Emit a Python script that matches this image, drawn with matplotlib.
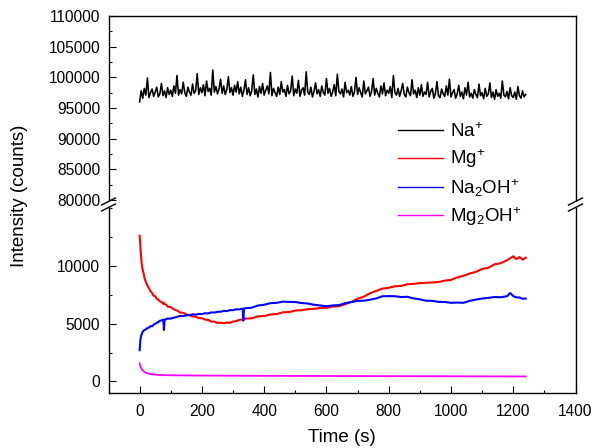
import matplotlib
matplotlib.use("Agg")
import matplotlib.pyplot as plt
from matplotlib.lines import Line2D
from matplotlib.ticker import MultipleLocator

plt.rcParams['font.family'] = ['Liberation Sans', 'DejaVu Sans']
plt.rcParams['mathtext.fontset'] = 'custom'
plt.rcParams['mathtext.rm'] = 'Liberation Sans'
plt.rcParams['mathtext.it'] = 'Liberation Sans'
plt.rcParams['mathtext.bf'] = 'Liberation Sans'

# ---------------- data ----------------
na_time = list(range(0, 1241, 5))
na_plus = [
    96000, 97800, 96600, 98200, 97100, 99900, 96700, 97500, 98100, 96900,
    97600, 98400, 96800, 97300, 99000, 97000, 97800, 96700, 98300, 97200,
    97900, 96900, 98600, 97400, 100300, 97100, 98000, 97300, 99200, 97500,
    96900, 98400, 97600, 97100, 98900, 97400, 97800, 100600, 97200, 98300,
    97500, 98800, 97000, 99400, 97700, 98200, 97100, 101200, 97600, 98500,
    97300, 98100, 99700, 97400, 98600, 97200, 98000, 100100, 97500, 98300,
    97100, 98700, 97600, 99300, 97300, 98400, 96900, 97900, 99600, 97200,
    98300, 97000, 97800, 100400, 97200, 98100, 96800, 98500, 97400, 99000,
    97100, 97900, 98600, 97300, 100800, 97000, 98200, 97500, 96900, 98400,
    97200, 99300, 97600, 98000, 96900, 98700, 97300, 97800, 100200, 97000,
    98100, 97400, 99500, 96900, 97900, 98300, 97100, 100900, 97600, 97200,
    98400, 96800, 97700, 99100, 97300, 98000, 96900, 98600, 97500, 97100,
    99800, 97400, 98200, 96900, 97600, 98800, 97000, 100500, 97700, 97300,
    98100, 96800, 99200, 97500, 97900, 97100, 98500, 96900, 97600, 100000,
    97200, 98300, 97500, 96800, 99400, 97300, 97800, 98400, 96900, 97700,
    99800, 97100, 98200, 97400, 96800, 98600, 97300, 99100, 97000, 97900,
    97400, 98500, 96700, 100300, 97500, 97100, 98200, 96900, 97800, 99000,
    97200, 96800, 98400, 97500, 97000, 99600, 97300, 97900, 96700, 98300,
    97100, 98800, 96900, 97600, 97200, 99200, 96800, 97700, 98200, 96600,
    97400, 99300, 97000, 96700, 98100, 97300, 96900, 98600, 97100, 99700,
    96800, 97500, 98000, 96600, 97300, 98700, 96900, 97600, 96500, 98300,
    97100, 99200, 96800, 97400, 96600, 98000, 97200, 96700, 98900, 97000,
    97500, 96500, 98200, 96900, 97300, 99100, 96700, 97600, 96400, 98000,
    96900, 97400, 96600, 99400, 97100, 96800, 97700, 96500, 98300, 97000,
    96700, 97600, 96400, 98500, 97000, 96600, 97800, 96800, 97200,
]

time = [0, 2, 4, 6, 8, 10, 13, 16, 20, 25, 30, 35, 40, 45, 50, 55, 60, 65, 70,
        76, 78, 80, 85, 90, 100, 110, 120, 130, 140, 150, 160, 170, 180, 190,
        200, 210, 220, 230, 240, 250, 260, 270, 280, 290, 300, 310, 320, 331,
        333, 335, 340, 360, 380, 400, 420, 440, 460, 480, 500, 520, 540, 560,
        580, 600, 620, 640, 660, 680, 700, 720, 740, 760, 780, 800, 820, 840,
        860, 880, 900, 920, 940, 960, 980, 1000, 1020, 1040, 1060, 1080, 1100,
        1120, 1140, 1160, 1180, 1190, 1200, 1210, 1220, 1230, 1240]

mg_plus = [12600, 11800, 11000, 10300, 9900, 9650, 9300, 8900, 8600, 8300,
           8050, 7800, 7650, 7400, 7380, 7150, 7080, 6920, 6880, 6720,
           6800, 6680, 6640, 6480, 6420, 6230, 6130, 5960, 5930, 5790,
           5730, 5620, 5590, 5480, 5470, 5350, 5320, 5180, 5170, 5060,
           5080, 5040, 5090, 5070, 5180, 5220, 5320, 5360, 5420, 5370,
           5430, 5460, 5630, 5660, 5790, 5830, 5980, 6000, 6130, 6160,
           6250, 6280, 6350, 6360, 6480, 6500, 6680, 6880, 7150, 7330,
           7630, 7830, 8030, 8100, 8230, 8260, 8410, 8430, 8510, 8530,
           8560, 8600, 8720, 8780, 9000, 9130, 9330, 9480, 9730, 9830,
           10130, 10230, 10480, 10650, 10820, 10580, 10760, 10540, 10700]

na2oh_plus = [2700, 3500, 3850, 4050, 4200, 4300, 4400, 4450, 4500, 4620,
              4660, 4780, 4760, 4920, 4980, 5080, 5130, 5250, 5280, 5330,
              4450, 5360, 5370, 5440, 5430, 5520, 5580, 5670, 5650, 5720,
              5730, 5800, 5770, 5840, 5830, 5900, 5880, 5970, 5960, 6020,
              6030, 6100, 6080, 6170, 6160, 6240, 6230, 6290, 5250, 6310,
              6330, 6380, 6570, 6630, 6770, 6800, 6900, 6880, 6870, 6780,
              6740, 6630, 6570, 6500, 6570, 6600, 6770, 6860, 6970, 6980,
              7070, 7180, 7370, 7380, 7370, 7300, 7320, 7180, 7100, 6980,
              6970, 6880, 6870, 6800, 6820, 6800, 6970, 7080, 7170, 7230,
              7300, 7280, 7370, 7650, 7380, 7270, 7260, 7150, 7170]

mg2oh_plus = [1560, 1350, 1200, 1100, 1000, 960, 880, 800, 750, 700,
              660, 640, 620, 600, 590, 575, 570, 560, 555, 550,
              548, 545, 540, 540, 535, 530, 528, 525, 522, 520,
              518, 515, 512, 510, 510, 508, 505, 505, 503, 500,
              500, 498, 497, 495, 495, 494, 492, 490, 490, 490,
              489, 488, 486, 485, 483, 482, 480, 479, 478, 476,
              475, 474, 472, 471, 470, 468, 467, 466, 465, 463,
              462, 460, 459, 458, 456, 455, 454, 452, 451, 450,
              449, 448, 447, 446, 445, 444, 443, 442, 441, 440,
              439, 438, 437, 436, 436, 435, 435, 434, 434]

labels = ['Na$^{+}$', 'Mg$^{+}$', 'Na$_{2}$OH$^{+}$', 'Mg$_{2}$OH$^{+}$']
colors = ['black', '#ff0000', '#0000ff', '#ff00ff']
x_ticks = [0, 200, 400, 600, 800, 1000, 1200, 1400]

# ---------------- figure ----------------
W, H = 595, 448
fig = plt.figure(figsize=(W / 100, H / 100), dpi=100)

left, right = 108.5 / W, 575.5 / W
ax_top = fig.add_axes([left, 1 - 200 / H, right - left, (200 - 16) / H])
ax_bot = fig.add_axes([left, 1 - 393 / H, right - left, (393 - 208) / H])

ax_top.plot(na_time, na_plus, color=colors[0], lw=1.15)
ax_bot.plot(time, mg_plus, color=colors[1], lw=1.5)
ax_bot.plot(time, na2oh_plus, color=colors[2], lw=1.5)
ax_bot.plot(time, mg2oh_plus, color=colors[3], lw=1.3)

for ax in (ax_top, ax_bot):
    ax.set_xlim(-100, 1400)
    for s in ax.spines.values():
        s.set_linewidth(1.0)
    ax.tick_params(axis='both', which='major', direction='in', length=5,
                   width=0.8, labelsize=11.2, pad=6)
    ax.tick_params(axis='both', which='minor', direction='in', length=2.5,
                   width=0.8)
    ax.yaxis.set_minor_locator(MultipleLocator(2500))

ax_top.set_ylim(80000, 110000)
ax_top.set_yticks(range(80000, 110001, 5000))
ax_top.spines['bottom'].set_visible(False)
ax_top.tick_params(axis='x', which='both', bottom=False, labelbottom=False)

ax_bot.set_ylim(-1000, 15000)
ax_bot.set_yticks([0, 5000, 10000])
ax_bot.spines['top'].set_visible(False)
ax_bot.set_xticks(x_ticks)
ax_bot.xaxis.set_minor_locator(MultipleLocator(100))
ax_bot.tick_params(axis='x', which='major', pad=8)

# break marks
def fline(x0, y0, x1, y1):
    fig.add_artist(Line2D([x0 / W, x1 / W], [1 - y0 / H, 1 - y1 / H],
                          color='black', lw=1.0, transform=fig.transFigure))

for xc in (108.5, 575.5):
    fline(xc - 7, 205, xc + 7, 198)
    fline(xc - 7, 211, xc + 7, 204)

fig.text(341.7 / W, 1 - 437 / H, 'Time (s)', ha='center', va='center',
         fontsize=13.5)
fig.text(19.5 / W, 1 - 195.5 / H, 'Intensity (counts)', ha='center',
         va='center', rotation=90, fontsize=13.5)

handles = [Line2D([], [], color=c, lw=1.0) for c in colors]
fig.legend(handles, labels, loc='center left',
           bbox_to_anchor=(398 / W, 1 - 175 / H), frameon=False,
           fontsize=13.5, handlelength=2.4, handletextpad=0.35,
           labelspacing=0.36, borderpad=0, borderaxespad=0)

fig.savefig('out.png', dpi=100)
